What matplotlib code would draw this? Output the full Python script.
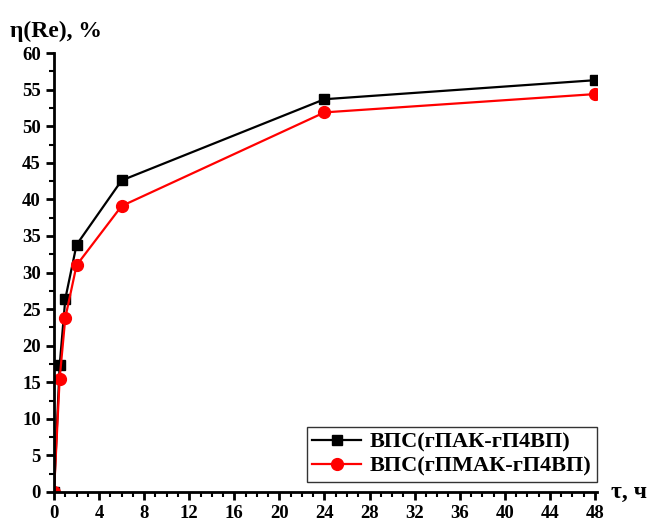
import matplotlib
matplotlib.use("Agg")
import matplotlib.pyplot as plt
from matplotlib.ticker import MultipleLocator

t = [0, 0.5, 1, 2, 6, 24, 48]
eta_pak = [0, 17.3, 26.4, 33.8, 42.6, 53.7, 56.3]
eta_pmak = [0, 15.5, 23.8, 31.0, 39.1, 51.9, 54.4]
label_pak = "ВПС(гПАК-гП4ВП)"
label_pmak = "ВПС(гПМАК-гП4ВП)"

plt.rcParams['font.family'] = ['Liberation Serif', 'DejaVu Serif']
plt.rcParams['font.weight'] = 'bold'

fig = plt.figure(figsize=(6.47, 5.21), dpi=100)
ax = fig.add_axes([0.0835, 0.0557, 0.8395, 0.8423])

ax.plot(t, eta_pak, color='black', lw=1.6, marker='s', ms=7.5, label=label_pak)
ax.plot(t, eta_pmak, color='red', lw=1.6, marker='o', ms=8.5, label=label_pmak)

ax.set_xlim(0, 48.2)
ax.set_ylim(0, 60)
ax.xaxis.set_major_locator(MultipleLocator(4))
ax.xaxis.set_minor_locator(MultipleLocator(1))
ax.yaxis.set_major_locator(MultipleLocator(5))
ax.yaxis.set_minor_locator(MultipleLocator(2.5))
for s in ['top', 'right']:
    ax.spines[s].set_visible(False)
for s in ['left', 'bottom']:
    ax.spines[s].set_linewidth(2)
ax.tick_params(which='major', direction='out', length=6, width=2, labelsize=13.5)
ax.tick_params(which='minor', direction='out', length=3.5, width=1.5)
for lab in ax.get_xticklabels() + ax.get_yticklabels():
    lab.set_fontweight('bold')

fig.text(10 / 647, 1 - 37 / 521, "η(Re), %", fontsize=17, fontweight='bold', ha='left', va='baseline')
ax.text(1.025, 0.0, "τ, ч", transform=ax.transAxes, fontsize=17, fontweight='bold', ha='left', va='center')

leg = ax.legend(loc='lower right', bbox_to_anchor=(1.0, 0.022), fontsize=16, frameon=True, fancybox=False,
                edgecolor='black', handlelength=2.2, borderpad=0.25, labelspacing=0.15, handletextpad=0.4,
                borderaxespad=0.0)
leg.get_frame().set_linewidth(1)
for txt in leg.get_texts():
    txt.set_fontweight('bold')

fig.savefig("out.png", dpi=100)
